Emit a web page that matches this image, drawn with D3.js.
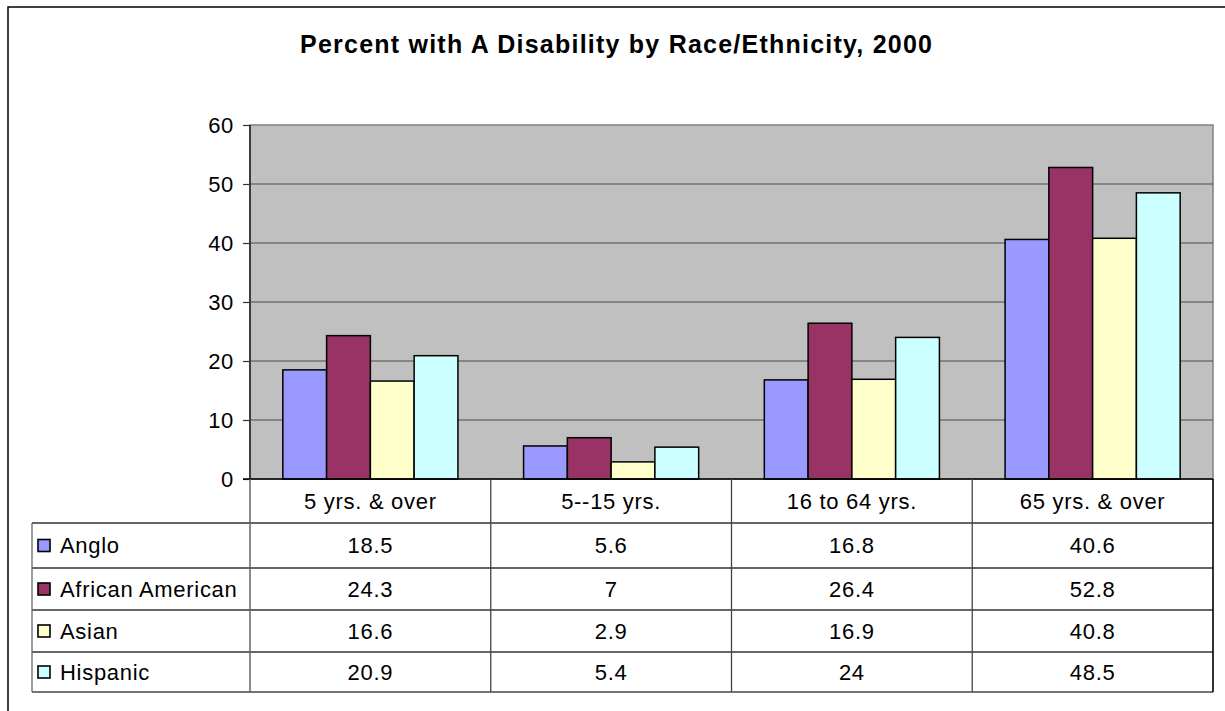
<!DOCTYPE html>
<html>
<head>
<meta charset="utf-8">
<script src="https://cdn.jsdelivr.net/npm/d3@7"></script>
<style>
  html, body { margin: 0; padding: 0; background: #fff; }
  svg { display: block; font-family: Arial, "Liberation Sans", sans-serif; }
</style>
</head>
<body>
<svg id="chart" width="1225" height="711"></svg>
<script>
const title = "Percent with A Disability by Race/Ethnicity, 2000";
const categories = ["5 yrs. & over", "5--15 yrs.", "16 to 64 yrs.", "65 yrs. & over"];
const seriesNames = ["Anglo", "African American", "Asian", "Hispanic"];
const anglo = [18.5, 5.6, 16.8, 40.6];
const africanAmerican = [24.3, 7, 26.4, 52.8];
const asian = [16.6, 2.9, 16.9, 40.8];
const hispanic = [20.9, 5.4, 24, 48.5];
const yTicks = [0, 10, 20, 30, 40, 50, 60];
const colors = ["#9999FF", "#993366", "#FFFFCC", "#CCFFFF"];

const seriesValues = [anglo, africanAmerican, asian, hispanic];
const series = seriesNames.map((n, i) => ({ name: n, values: seriesValues[i], color: colors[i] }));

const svg = d3.select("#chart");
const FS = 22, LS = 0.7;

// outer frame
svg.append("rect").attr("x", 8).attr("y", 7).attr("width", 1240).attr("height", 740)
  .attr("fill", "#fff").attr("stroke", "#000").attr("stroke-width", 1.5);

// title
svg.append("text").attr("x", 616).attr("y", 53).attr("text-anchor", "middle")
  .attr("font-size", 25).attr("font-weight", "bold")
  .attr("textLength", 632).attr("lengthAdjust", "spacing")
  .text(title);

const plotL = 250, plotR = 1213, plotT = 125, plotB = 479;
const x0 = d3.scaleBand().domain(categories).range([plotL, plotR]).padding(0);
const bw = x0.bandwidth();
const x1 = d3.scaleBand().domain(seriesNames).range([bw * 0.75 / 5.5, bw * 4.75 / 5.5]).padding(0);
const y = d3.scaleLinear().domain([0, 60]).range([plotB, plotT]);

// plot background
svg.append("rect").attr("x", plotL).attr("y", plotT).attr("width", plotR - plotL).attr("height", plotB - plotT)
  .attr("fill", "#C0C0C0").attr("stroke", "#808080").attr("stroke-width", 1.5);

// gridlines
svg.append("g").selectAll("line").data(yTicks.filter(t => t > 0 && t < 60)).join("line")
  .attr("x1", plotL).attr("x2", plotR).attr("y1", d => y(d)).attr("y2", d => y(d))
  .attr("stroke", "#4a4a4a").attr("stroke-width", 1.2);

// bars
const groups = svg.append("g").selectAll("g").data(categories).join("g")
  .attr("transform", c => `translate(${x0(c)},0)`);
groups.selectAll("rect").data((c, ci) => series.map(s => ({ s, v: s.values[ci] }))).join("rect")
  .attr("x", d => x1(d.s.name)).attr("width", x1.bandwidth())
  .attr("y", d => y(d.v)).attr("height", d => y(0) - y(d.v))
  .attr("fill", d => d.s.color).attr("stroke", "#000").attr("stroke-width", 1.5);

// y axis
const yAxis = d3.axisLeft(y).tickValues(yTicks).tickSize(7).tickPadding(9).tickFormat(d3.format("d"));
const ya = svg.append("g").attr("transform", `translate(${plotL},0)`).call(yAxis);
ya.select(".domain").remove();
ya.selectAll(".tick line").attr("stroke", "#333").attr("stroke-width", 1.2);
ya.selectAll(".tick text").attr("font-size", FS).attr("font-family", "Arial, 'Liberation Sans', sans-serif")
  .attr("fill", "#000").attr("letter-spacing", LS).attr("dy", "0.35em");
svg.append("line").attr("x1", plotL).attr("x2", plotL).attr("y1", plotT).attr("y2", plotB)
  .attr("stroke", "#333").attr("stroke-width", 1.8);
// baseline
svg.append("line").attr("x1", plotL - 7).attr("x2", plotR).attr("y1", plotB).attr("y2", plotB)
  .attr("stroke", "#000").attr("stroke-width", 1.5);

// data table
const tableL = 32;
const rowEdges = [479, 523, 568, 610, 652, 692];
const tg = svg.append("g");
const lineColor = "#333";
rowEdges.slice(1).forEach((ry, i) => {
  tg.append("line").attr("x1", tableL).attr("x2", plotR).attr("y1", ry).attr("y2", ry)
    .attr("stroke", i === rowEdges.length - 2 ? "#444" : lineColor).attr("stroke-width", 1.3);
});
tg.append("line").attr("x1", tableL).attr("x2", tableL).attr("y1", rowEdges[1]).attr("y2", rowEdges[5])
  .attr("stroke", "#666").attr("stroke-width", 1.3);
tg.append("line").attr("x1", plotL).attr("x2", plotL).attr("y1", plotB).attr("y2", rowEdges[5])
  .attr("stroke", "#666").attr("stroke-width", 1.5);
categories.forEach(c => {
  const xr = x0(c) + bw;
  tg.append("line").attr("x1", xr).attr("x2", xr).attr("y1", plotB).attr("y2", rowEdges[5])
    .attr("stroke", xr > plotR - 1 ? "#000" : "#444").attr("stroke-width", xr > plotR - 1 ? 1.6 : 1.3);
});
tg.selectAll("text.hdr").data(categories).join("text").attr("class", "hdr")
  .attr("x", c => x0(c) + bw / 2).attr("y", (rowEdges[0] + rowEdges[1]) / 2 + 7.5)
  .attr("text-anchor", "middle").attr("font-size", FS).attr("letter-spacing", LS)
  .text(c => c);
series.forEach((s, i) => {
  const cy = (rowEdges[i + 1] + rowEdges[i + 2]) / 2;
  tg.append("rect").attr("x", 38).attr("y", cy - 6).attr("width", 12).attr("height", 12)
    .attr("fill", s.color).attr("stroke", "#000").attr("stroke-width", 1.6);
  tg.append("text").attr("x", 60).attr("y", cy + 7.5).attr("font-size", FS).attr("letter-spacing", LS)
    .text(s.name);
  categories.forEach((c, ci) => {
    tg.append("text").attr("x", x0(c) + bw / 2).attr("y", cy + 7.5).attr("text-anchor", "middle")
      .attr("font-size", FS).attr("letter-spacing", LS).text(s.values[ci]);
  });
});
</script>
</body>
</html>
